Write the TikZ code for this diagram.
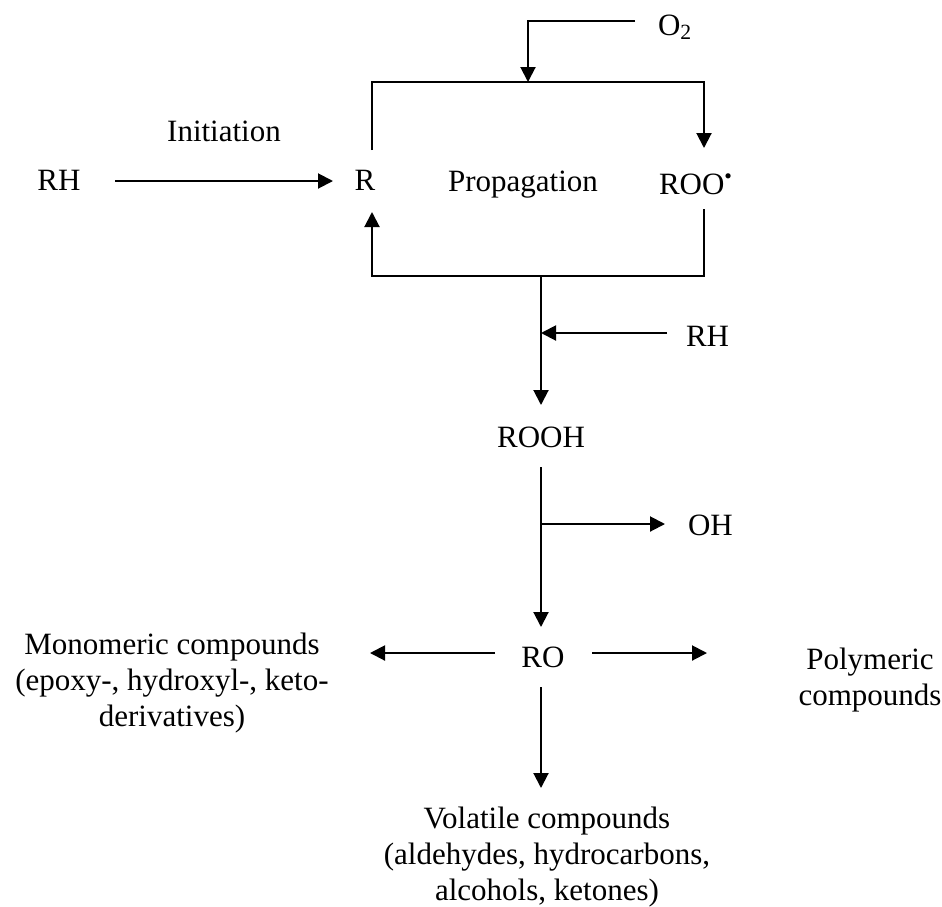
\documentclass[tikz,border=0pt]{standalone}
\usepackage{fontspec}
\setmainfont{Liberation Serif}
\usetikzlibrary{arrows.meta}
\begin{document}
\begin{tikzpicture}[x=0.5pt,y=-0.5pt,line width=1pt,
  arr/.style={-{Triangle[length=7.5pt,width=7.5pt]}},
  lbl/.style={inner sep=0pt,font=\fontsize{15.5}{18.2}\selectfont,align=center}]
\useasboundingbox (0,0) rectangle (942,906);
% text nodes
\node[lbl,anchor=base] (rh1) at (59,190) {RH};
\node[lbl,anchor=base] (init) at (224,141) {Initiation};
\node[lbl,anchor=base] (r) at (365,190) {R};
\node[lbl,anchor=base] (prop) at (523,191) {Propagation};
\node[lbl,anchor=base west] (roo) at (658,194) {ROO\textsuperscript{\textbullet}};
\node[lbl,anchor=base west] (o2) at (657,35) {O\textsubscript{2}};
\node[lbl,anchor=base west] (rh2) at (685,346) {RH};
\node[lbl,anchor=base] (rooh) at (541,447) {ROOH};
\node[lbl,anchor=base west] (oh) at (687,535) {OH};
\node[lbl,anchor=base] (ro) at (543,667) {RO};
\node[lbl] (mono) at (172,683) {Monomeric compounds\\(epoxy-, hydroxyl-, keto-\\derivatives)};
\node[lbl] (poly) at (870,680) {Polymeric\\compounds};
\node[lbl] (vol) at (547,857) {Volatile compounds\\(aldehydes, hydrocarbons,\\alcohols, ketones)};
% junction and end coordinates
\coordinate (iS) at (115,181); \coordinate (iE) at (333,181);
\coordinate (rTop) at (372,150); \coordinate (tl) at (372,82); \coordinate (tr) at (704,82);
\coordinate (rooTop) at (704,148);
\coordinate (o2S) at (635,21); \coordinate (o2C) at (528,21); \coordinate (o2E) at (528,82);
\coordinate (rooBot) at (704,209); \coordinate (br) at (704,276); \coordinate (bl) at (372,276);
\coordinate (rBot) at (372,212);
\coordinate (stemA) at (541,276); \coordinate (roohTop) at (541,405);
\coordinate (rh2S) at (667,333); \coordinate (rh2E) at (541,333);
\coordinate (roohBot) at (541,467); \coordinate (roTop) at (541,627);
\coordinate (ohS) at (541,524); \coordinate (ohE) at (665,524);
\coordinate (roL) at (495,653); \coordinate (monoE) at (370,653);
\coordinate (roR) at (592,653); \coordinate (polyW) at (707,653);
\coordinate (roBot) at (541,687); \coordinate (volTop) at (541,788);
% connectors
\draw[arr] (iS) -- (iE);
\draw[arr] (rTop) -- (tl) -- (tr) -- (rooTop);
\draw[arr] (o2S) -- (o2C) -- (o2E);
\draw[arr] (rooBot) -- (br) -- (bl) -- (rBot);
\draw[arr] (stemA) -- (roohTop);
\draw[arr] (rh2S) -- (rh2E);
\draw[arr] (roohBot) -- (roTop);
\draw[arr] (ohS) -- (ohE);
\draw[arr] (roL) -- (monoE);
\draw[arr] (roR) -- (polyW);
\draw[arr] (roBot) -- (volTop);
\end{tikzpicture}
\end{document}
